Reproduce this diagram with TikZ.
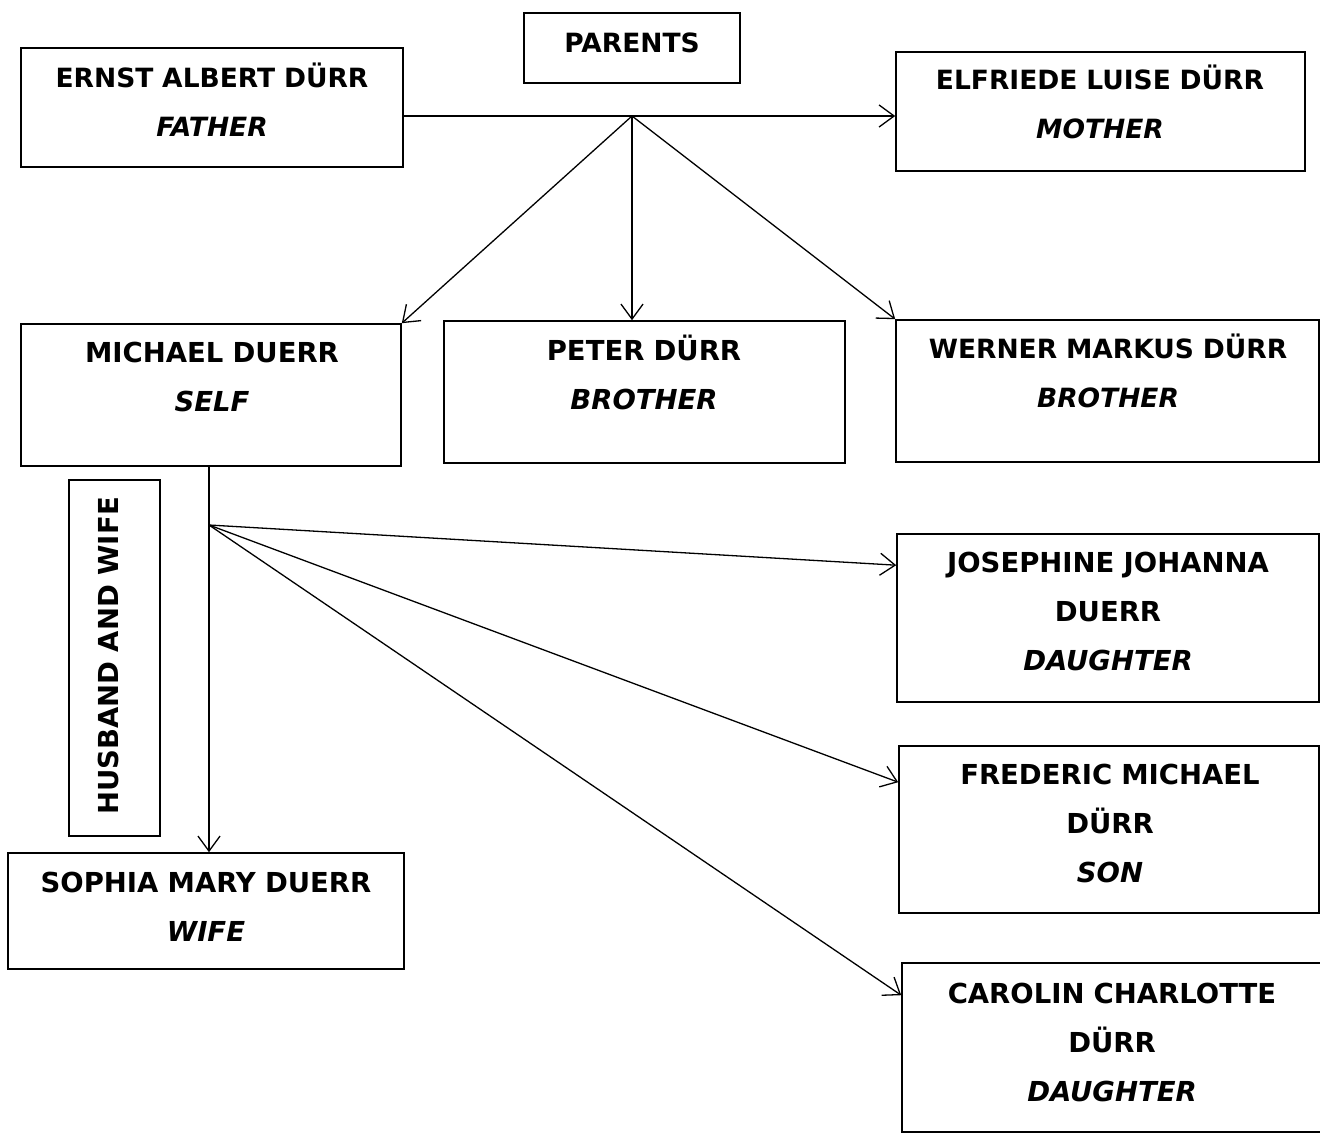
\documentclass[tikz,border=0pt]{standalone}
\usepackage{fontspec}
\setmainfont{DejaVu Sans}
\usetikzlibrary{arrows.meta}

\begin{document}
\begin{tikzpicture}[x=1pt,y=-1pt,
		box/.style={draw,line width=1.6pt,inner sep=0pt},
		txt/.style={anchor=north,align=center,text width=440pt,inner sep=0pt,font=\bfseries\fontsize{27.5}{49}\selectfont,execute at begin node={\rule{0pt}{25pt}}},
		toptxt/.style={txt,font=\bfseries\fontsize{26.5}{49}\selectfont},
		rel/.style={line width=1.3pt,-{Straight Barb[length=15pt,width=22pt,line width=1.3pt]}}]
		\useasboundingbox (0,0) rectangle (1320,1135);
		\node[box,minimum width=216,minimum height=70] (parents) at (632,48) {};
		\node[box,minimum width=382,minimum height=119] (father) at (212,107.5) {};
		\node[box,minimum width=409,minimum height=119] (mother) at (1100.5,111.5) {};
		\node[box,minimum width=380,minimum height=142] (self) at (211,395) {};
		\node[box,minimum width=401,minimum height=142] (peter) at (644.5,392) {};
		\node[box,minimum width=423,minimum height=142] (werner) at (1107.5,391) {};
		\node[box,minimum width=422,minimum height=168] (josephine) at (1108,618) {};
		\node[box,minimum width=420,minimum height=167] (frederic) at (1109,829.5) {};
		\node[box,minimum width=420,minimum height=169] (carolin) at (1112,1047.5) {};
		\node[box,minimum width=396,minimum height=116] (sophia) at (206,911) {};
		\node[box,minimum width=91,minimum height=356] (hw) at (114.5,658) {};
		\node[toptxt] (parents-t) at (632,27) {PARENTS};
		\node[toptxt] (father-t) at (212,62) {ERNST ALBERT DÜRR\\\textit{FATHER}};
		\node[toptxt] (mother-t) at (1100,64) {ELFRIEDE LUISE DÜRR\\\textit{MOTHER}};
		\node[txt] (self-t) at (212,337) {MICHAEL DUERR\\\textit{SELF}};
		\node[txt] (peter-t) at (644,335) {PETER DÜRR\\\textit{BROTHER}};
		\node[toptxt] (werner-t) at (1108,333) {WERNER MARKUS DÜRR\\\textit{BROTHER}};
		\node[txt] (josephine-t) at (1108,547) {JOSEPHINE JOHANNA\\DUERR\\\textit{DAUGHTER}};
		\node[txt] (frederic-t) at (1110,759) {FREDERIC MICHAEL\\DÜRR\\\textit{SON}};
		\node[txt] (carolin-t) at (1112,978) {CAROLIN CHARLOTTE\\DÜRR\\\textit{DAUGHTER}};
		\node[txt] (sophia-t) at (206,867) {SOPHIA MARY DUERR\\\textit{WIFE}};
		\node[rotate=90,inner sep=0pt,font=\bfseries\fontsize{27.5}{30}\selectfont] (hw-t) at (108,656) {HUSBAND AND WIFE};
		\coordinate (pj) at (632,116);
		\coordinate (cj) at (209,525);
		\draw[rel] (father.east |- pj) -- (mother.west |- pj);
		\draw[rel] (pj) -- (self.north east);
		\draw[rel] (pj) -- (pj |- peter.north);
		\draw[rel] (pj) -- (werner.north west);
		\draw[rel] (cj |- self.south) -- (cj |- sophia.north);
		\draw[rel] (cj) -- ([yshift=-32pt]josephine.north west);
		\draw[rel] (cj) -- ([yshift=-37pt]frederic.north west);
		\draw[rel] (cj) -- ([yshift=-33pt]carolin.north west);
	\end{tikzpicture}
\end{document}
